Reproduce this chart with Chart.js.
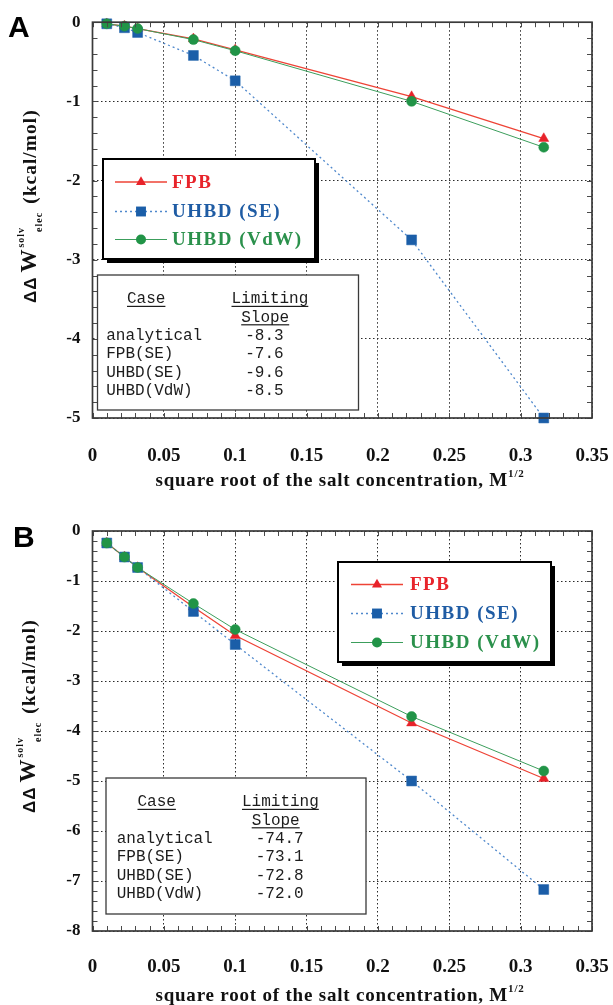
<!DOCTYPE html>
<html>
<head>
<meta charset="utf-8">
<script src="https://cdn.jsdelivr.net/npm/chart.js@4.4.0/dist/chart.umd.min.js"></script>
<style>
  html, body { margin: 0; padding: 0; background: #fff; }
  body { width: 613px; height: 1005px; position: relative; overflow: hidden; }
  canvas { position: absolute; left: 0; }
  #chartA { top: 0; }
  #chartB { top: 505px; }
</style>
</head>
<body>
<canvas id="chartA" width="613" height="505"></canvas>
<canvas id="chartB" width="613" height="500"></canvas>
<script>
// square root of the salt concentration (M^1/2)
const xValues = [0.01, 0.0224, 0.0316, 0.0707, 0.1, 0.2236, 0.3162];
const xTickValues = [0, 0.05, 0.1, 0.15, 0.2, 0.25, 0.3, 0.35];
const xTickLabels = ["0", "0.05", "0.1", "0.15", "0.2", "0.25", "0.3", "0.35"];

const seriesNames = ["FPB", "UHBD (SE)", "UHBD (VdW)"];

// panel A
const fpbA = [-0.02, -0.05, -0.08, -0.21, -0.35, -0.94, -1.47];
const seA = [-0.02, -0.07, -0.13, -0.42, -0.74, -2.75, -5.0];
const vdwA = [-0.02, -0.05, -0.08, -0.22, -0.36, -1.0, -1.58];
const yTicksA = [-5, -4, -3, -2, -1, 0];

// panel B
const fpbB = [-0.24, -0.52, -0.73, -1.52, -2.09, -3.84, -4.95];
const seB = [-0.24, -0.52, -0.73, -1.61, -2.27, -5.0, -7.17];
const vdwB = [-0.24, -0.52, -0.73, -1.45, -1.97, -3.71, -4.8];
const yTicksB = [-8, -7, -6, -5, -4, -3, -2, -1, 0];

// limiting slope tables
const tableHeaders = ["Case", "Limiting", "Slope"];
const slopeCases = ["analytical", "FPB(SE)", "UHBD(SE)", "UHBD(VdW)"];
const slopesA = ["-8.3", "-7.6", "-9.6", "-8.5"];
const slopesB = ["-74.7", "-73.1", "-72.8", "-72.0"];

const SERIF = '"Liberation Serif", "Times New Roman", serif';
const SANS = '"Liberation Sans", Arial, sans-serif';
const MONO = '"Liberation Mono", "Courier New", monospace';

function makeDatasets(fpb, se, vdw) {
  const pts = arr => xValues.map((x, i) => ({ x, y: arr[i] }));
  return [
    { label: seriesNames[0], data: pts(fpb), borderColor: "#ee4336", backgroundColor: "#e8222a",
      pointBackgroundColor: "#e8222a", pointBorderColor: "#e8222a", pointBorderWidth: 0.5,
      borderWidth: 1.3, pointStyle: "triangle", pointRadius: 5.8, textColor: "#e8242b", order: 3 },
    { label: seriesNames[1], data: pts(se), borderColor: "#4f88cc", backgroundColor: "#1b5ea8",
      pointBackgroundColor: "#1b5ea8", pointBorderColor: "#1b5ea8", pointBorderWidth: 0.5,
      borderWidth: 1.3, borderDash: [2, 3], pointStyle: "rect", pointRadius: 7, textColor: "#1f5ca4", order: 2 },
    { label: seriesNames[2], data: pts(vdw), borderColor: "#3c9e5c", backgroundColor: "#219447",
      pointBackgroundColor: "#219447", pointBorderColor: "#219447", pointBorderWidth: 0.5,
      borderWidth: 1, pointStyle: "circle", pointRadius: 5, textColor: "#2b914c", order: 1 }
  ];
}

function drawLegend(ctx, chart, b) {
  ctx.save();
  ctx.fillStyle = "#000";
  ctx.fillRect(b.x + 4, b.y + 4, b.w, b.h);
  ctx.fillStyle = "#fff";
  ctx.fillRect(b.x, b.y, b.w, b.h);
  ctx.strokeStyle = "#000";
  ctx.lineWidth = 2;
  ctx.strokeRect(b.x, b.y, b.w, b.h);
  chart.data.datasets.forEach((ds, i) => {
    const y = b.y + b.rows[i];
    ctx.beginPath();
    ctx.setLineDash(ds.borderDash || []);
    ctx.strokeStyle = ds.borderColor;
    ctx.lineWidth = ds.borderWidth;
    ctx.moveTo(b.x + b.line0, y);
    ctx.lineTo(b.x + b.line1, y);
    ctx.stroke();
    ctx.setLineDash([]);
    ctx.fillStyle = ds.pointBackgroundColor;
    Chart.helpers.drawPoint(ctx, { pointStyle: ds.pointStyle, radius: ds.pointRadius, rotation: 0, borderWidth: 0 },
      b.x + (b.line0 + b.line1) / 2, y);
    ctx.fillStyle = ds.textColor;
    ctx.font = "bold 19px " + SERIF;
    ctx.letterSpacing = "1.5px";
    ctx.textBaseline = "middle";
    ctx.textAlign = "left";
    ctx.fillText(ds.label, b.x + b.text, y + 1);
    ctx.letterSpacing = "0px";
  });
  ctx.restore();
}

function drawTable(ctx, t, slopes) {
  ctx.save();
  ctx.fillStyle = "#fff";
  ctx.fillRect(t.x, t.y, t.w, t.h);
  ctx.strokeStyle = "#3a3a3a";
  ctx.lineWidth = 1.3;
  ctx.strokeRect(t.x, t.y, t.w, t.h);
  ctx.font = "16px " + MONO;
  ctx.fillStyle = "#1c1c1c";
  ctx.textBaseline = "alphabetic";
  ctx.textAlign = "left";
  const header = (text, cx, by) => {
    const w = ctx.measureText(text).width;
    ctx.fillText(text, cx - w / 2, by);
    ctx.fillRect(cx - w / 2, by + 2.5, w, 1.2);
  };
  header(tableHeaders[0], t.x + t.dx + 48.7, t.y + 28.3);
  header(tableHeaders[1], t.x + t.dx + 172.4, t.y + 28.3);
  header(tableHeaders[2], t.x + t.dx + 167.7, t.y + 46.7);
  slopeCases.forEach((c, i) => {
    const by = t.y + 65 + i * 18.35;
    ctx.fillText(c, t.x + t.dx + 8.7, by);
    ctx.fillText(slopes[i], t.x + t.dx + 147.7, by);
  });
  ctx.restore();
}

function drawYTitle(ctx, xBase, yStart) {
  ctx.save();
  ctx.translate(xBase, yStart);
  ctx.rotate(-Math.PI / 2);
  ctx.fillStyle = "#111";
  ctx.textBaseline = "alphabetic";
  ctx.textAlign = "left";
  ctx.letterSpacing = "1px";
  let x = 0;
  const put = (text, font, dy, gap) => {
    ctx.font = font;
    ctx.fillText(text, x, dy);
    x += ctx.measureText(text).width + gap;
  };
  put("\u0394\u0394", "bold 17px " + SANS, 0, 4);
  put("W", "bold 23px " + SERIF, 0, 1);
  put("solv", "bold 10px " + SERIF, -12, -5);
  put("elec", "bold 10px " + SERIF, 6, 8);
  put("(kcal/mol)", "bold 19.5px " + SERIF, 0, 0);
  ctx.restore();
}

function drawXTitle(ctx, cx, baseline) {
  ctx.save();
  ctx.fillStyle = "#111";
  ctx.textBaseline = "alphabetic";
  ctx.textAlign = "left";
  ctx.letterSpacing = "0.8px";
  const main = "square root of the salt concentration, M";
  const sup = "1/2";
  ctx.font = "bold 11px " + SERIF;
  const ws = ctx.measureText(sup).width;
  ctx.font = "bold 19px " + SERIF;
  const wm = ctx.measureText(main).width;
  const x0 = cx - (wm + ws) / 2;
  ctx.fillText(main, x0, baseline);
  ctx.font = "bold 11px " + SERIF;
  ctx.fillText(sup, x0 + wm, baseline - 9);
  ctx.restore();
}

function makePanelPlugin(cfg) {
  return {
    id: "panel",
    afterDraw(chart) {
      const ctx = chart.ctx;
      const a = chart.chartArea;
      const xs = chart.scales.x, ys = chart.scales.y;
      ctx.save();
      ctx.strokeStyle = "#4a4a4a";
      ctx.lineWidth = 1;
      ctx.beginPath();
      const nx = Math.round((xs.max - xs.min) / 0.01);
      for (let i = 0; i <= nx; i++) {
        const px = Math.round(xs.getPixelForValue(xs.min + i * 0.01)) + 0.5;
        ctx.moveTo(px, a.top); ctx.lineTo(px, a.top + 5);
        ctx.moveTo(px, a.bottom); ctx.lineTo(px, a.bottom - 5);
      }
      const ny = Math.round((ys.max - ys.min) / 0.2);
      for (let i = 0; i <= ny; i++) {
        const py = Math.round(ys.getPixelForValue(ys.min + i * 0.2)) + 0.5;
        ctx.moveTo(a.left, py); ctx.lineTo(a.left + 5, py);
        ctx.moveTo(a.right, py); ctx.lineTo(a.right - 5, py);
      }
      ctx.stroke();
      ctx.lineWidth = 1.7;
      ctx.strokeStyle = "#3a3a3a";
      ctx.strokeRect(a.left, a.top, a.right - a.left, a.bottom - a.top);
      ctx.restore();

      drawLegend(ctx, chart, cfg.legend);
      drawTable(ctx, cfg.table, cfg.slopes);
      drawYTitle(ctx, cfg.yTitleX, cfg.yTitleStart);
      drawXTitle(ctx, 340, a.bottom + cfg.xTitleOffset);

      ctx.save();
      ctx.fillStyle = "#000";
      ctx.font = "bold 30px " + SANS;
      ctx.textBaseline = "alphabetic";
      ctx.fillText(cfg.letter, cfg.letterX, cfg.letterY);
      ctx.restore();
    }
  };
}

function makeChart(id, datasets, yTicks, cfg) {
  return new Chart(document.getElementById(id), {
    type: "scatter",
    data: { datasets },
    options: {
      responsive: false,
      animation: false,
      devicePixelRatio: 1,
      showLine: true,
      layout: { padding: { left: 0, right: 21, top: cfg.top, bottom: 0 } },
      elements: { line: { tension: 0 } },
      datasets: { scatter: { clip: false } },
      plugins: { legend: { display: false }, tooltip: { enabled: false } },
      scales: {
        x: {
          type: "linear", min: 0, max: 0.35,
          afterBuildTicks: s => { s.ticks = xTickValues.map(v => ({ value: v })); },
          afterFit: s => { s.height = cfg.xHeight; s.paddingLeft = 0; s.paddingRight = 0; },
          ticks: {
            callback: (v, i) => xTickLabels[i],
            autoSkip: false, maxRotation: 0, padding: cfg.xPad,
            color: "#111", font: { family: SERIF, size: 19, weight: "bold" }
          },
          grid: { color: "#2a2a2a", lineWidth: 1, drawTicks: false },
          border: { display: false, dash: [1.5, 2.5] }
        },
        y: {
          type: "linear", min: yTicks[0], max: yTicks[yTicks.length - 1],
          afterBuildTicks: s => { s.ticks = yTicks.map(v => ({ value: v })); },
          afterFit: s => { s.width = 92.5; },
          ticks: {
            callback: v => String(v),
            autoSkip: false, padding: 12,
            color: "#111", font: { family: SERIF, size: 17, weight: "bold" }
          },
          grid: { color: "#2a2a2a", lineWidth: 1, drawTicks: false },
          border: { display: false, dash: [1.5, 2.5] }
        }
      }
    },
    plugins: [makePanelPlugin(cfg)]
  });
}

makeChart("chartA", makeDatasets(fpbA, seA, vdwA), yTicksA, {
  top: 20, xHeight: 87, xPad: 27,
  legend: { x: 103, y: 159, w: 212, h: 100, rows: [23, 52.5, 80.5], line0: 12, line1: 64, text: 69 },
  table: { x: 97.5, y: 275, w: 261, h: 135, dx: 0 },
  slopes: slopesA,
  yTitleX: 36, yTitleStart: 303,
  xTitleOffset: 68,
  letter: "A", letterX: 8, letterY: 37
});

makeChart("chartB", makeDatasets(fpbB, seB, vdwB), yTicksB, {
  top: 26, xHeight: 74, xPad: 24.5,
  legend: { x: 338, y: 57, w: 213, h: 100, rows: [22.5, 51.5, 80.5], line0: 13, line1: 65, text: 72 },
  table: { x: 106, y: 273, w: 260, h: 136, dx: 2 },
  slopes: slopesB,
  yTitleX: 35, yTitleStart: 308,
  xTitleOffset: 70,
  letter: "B", letterX: 13, letterY: 42
});
</script>
</body>
</html>
